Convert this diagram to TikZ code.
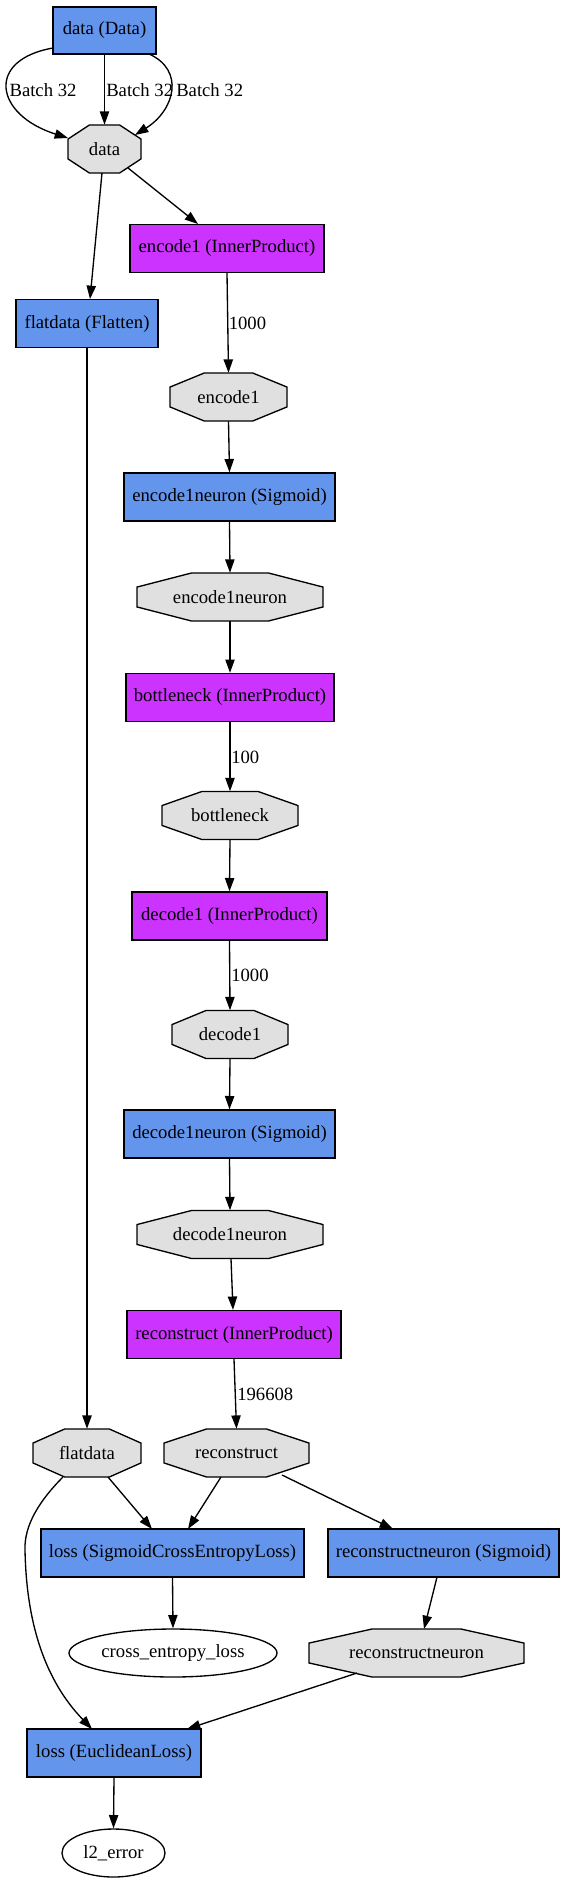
\documentclass[tikz,border=0pt]{standalone}
\usepackage{fontspec}
\setmainfont{Liberation Serif}
\usetikzlibrary{shapes.geometric,arrows.meta,calc}
\definecolor{layerblue}{HTML}{6495ED}
\definecolor{ipurple}{HTML}{CC33FF}
\definecolor{blobgray}{HTML}{E0E0E0}
\tikzset{
  txt/.style={font=\fontsize{14pt}{16pt}\selectfont},
  layer/.style={txt, rectangle, draw=black, line width=1pt, fill=layerblue, inner sep=0pt, minimum height=36pt},
  iplayer/.style={layer, fill=ipurple},
  blobshape/.style={draw=black, line width=1pt, fill=blobgray},
  blobtext/.style={txt, rectangle, inner sep=0pt, minimum height=36pt},
  outell/.style={txt, ellipse, draw=black, line width=1pt, fill=white, inner sep=0pt, minimum height=36pt},
  conn/.style={draw=black, line width=1pt, -{Triangle[length=10pt,width=7pt]}},
  elabel/.style={txt, inner sep=0pt, anchor=west}
}
\newcommand\blob[5]{%
  \pgfmathsetmacro\bA{#4/2}%
  \pgfmathsetmacro\bB{0.41421*\bA}%
  \filldraw[blobshape] (#2+\bA,#3-9.94) -- (#2+\bA,#3+9.94) -- (#2+\bB,#3+24) -- (#2-\bB,#3+24) -- (#2-\bA,#3+9.94) -- (#2-\bA,#3-9.94) -- (#2-\bB,#3-24) -- (#2+\bB,#3-24) -- cycle;
  \node[blobtext, minimum width={#4*0.75pt}] (#1) at (#2,#3) {#5};
}
\begin{document}
\begin{tikzpicture}[x=0.75pt, y=-0.75pt]
\path[use as bounding box] (0,0) rectangle (563,1883);

% layers
\node[layer, minimum width={103*0.75pt}, minimum height={47*0.75pt}] (dataL) at (104.5,30.5) {data (Data)};
\blob{dataB}{104.5}{149}{73}{data}
\node[iplayer, minimum width={194*0.75pt}] (enc1L) at (227,248.5) {encode1 (InnerProduct)};
\node[layer, minimum width={142*0.75pt}] (flatL) at (87,323.5) {flatdata (Flatten)};
\blob{enc1B}{228.5}{397}{117}{encode1}
\node[layer, minimum width={211*0.75pt}] (enc1nL) at (229.5,497) {encode1neuron (Sigmoid)};
\blob{enc1nB}{230}{597}{186}{encode1neuron}
\node[iplayer, minimum width={208*0.75pt}] (botL) at (230,697.5) {bottleneck (InnerProduct)};
\blob{botB}{230}{815.5}{136}{bottleneck}
\node[iplayer, minimum width={195*0.75pt}] (dec1L) at (229.5,916) {decode1 (InnerProduct)};
\blob{dec1B}{230}{1034.5}{116}{decode1}
\node[layer, minimum width={211*0.75pt}] (dec1nL) at (229.5,1134) {decode1neuron (Sigmoid)};
\blob{dec1nB}{230}{1234.5}{186}{decode1neuron}
\node[iplayer, minimum width={214*0.75pt}] (recL) at (234,1334.5) {reconstruct (InnerProduct)};
\blob{flatB}{87}{1453}{108}{flatdata}
\blob{recB}{236.5}{1453}{145}{reconstruct}
\node[layer, minimum width={263*0.75pt}] (sceL) at (172.5,1553) {loss (SigmoidCrossEntropyLoss)};
\node[layer, minimum width={231*0.75pt}] (rnL) at (443.5,1553) {reconstructneuron (Sigmoid)};
\node[outell, minimum width={208*0.75pt}] (ceE) at (173,1653) {cross\_entropy\_loss};
\blob{rnB}{416.5}{1653}{215}{reconstructneuron}
\node[layer, minimum width={174*0.75pt}] (euL) at (114,1753) {loss (EuclideanLoss)};
\node[outell, minimum width={103*0.75pt}] (l2E) at (113.5,1853) {l2\_error};

% connectors
\draw[conn] ($(dataL)+(-51.5,17.5)$) .. controls (-15,60) and (-5,115) .. ($(dataB)+(-36.5,-11)$);
\draw[conn] (dataL.south) -- (dataB.north);
\draw[conn] ($(dataL)+(44.5,23.5)$) .. controls (185,70) and (175,110) .. ($(dataB)+(30.5,-14)$);
\draw[conn] ($(dataB)+(23.5,19)$) -- ($(enc1L)+(-29,-24.5)$);
\draw[conn] ($(dataB)+(-2.5,24)$) -- ($(flatL)+(3,-24.5)$);
\draw[conn] (enc1L.south) -- (enc1B.north);
\draw[conn] (enc1B.south) -- (enc1nL.north);
\draw[conn] (enc1nL.south) -- (enc1nB.north);
\draw[conn] (enc1nB.south) -- (botL.north);
\draw[conn] (botL.south) -- (botB.north);
\draw[conn] (botB.south) -- (dec1L.north);
\draw[conn] (dec1L.south) -- (dec1B.north);
\draw[conn] (dec1B.south) -- (dec1nL.north);
\draw[conn] (dec1nL.south) -- (dec1nB.north);
\draw[conn] ($(dec1nB.south)+(1,0)$) -- ($(recL.north)+(-1,0)$);
\draw[conn] (recL.south) -- (recB.north);
\draw[conn] (flatL.south) -- (flatB.north);
\draw[conn] ($(flatB)+(21,24)$) -- ($(sceL)+(-20.5,-24)$);
\draw[conn] ($(recB)+(-15.5,24)$) -- ($(sceL)+(15.5,-24)$);
\draw[conn] ($(recB)+(45.5,22)$) -- ($(rnL)+(-50.5,-24)$);
\draw[conn] ($(flatB)+(-24,24)$) .. controls (40,1500) and (24,1525) .. (25,1550) .. controls (26,1600) and (35,1670) .. ($(euL)+(-22,-24)$);
\draw[conn] (sceL.south) -- (ceE.north);
\draw[conn] ($(rnL)+(-6.5,24)$) -- ($(rnB)+(7.5,-24)$);
\draw[conn] ($(rnB)+(-59.5,20)$) -- ($(euL)+(73,-24)$);
\draw[conn] (euL.south) -- (l2E.north);

% edge labels
\node[txt, inner sep=0pt] (lb1) at (43,90) {Batch 32};
\node[elabel] (lb2) at (106,90) {Batch 32};
\node[elabel] (lb3) at (176,90) {Batch 32};
\node[elabel] (lb4) at (228.5,323) {1000};
\node[elabel] (lb5) at (231,757) {100};
\node[elabel] (lb6) at (231,975) {1000};
\node[elabel] (lb7) at (237,1394) {196608};
\end{tikzpicture}
\end{document}
